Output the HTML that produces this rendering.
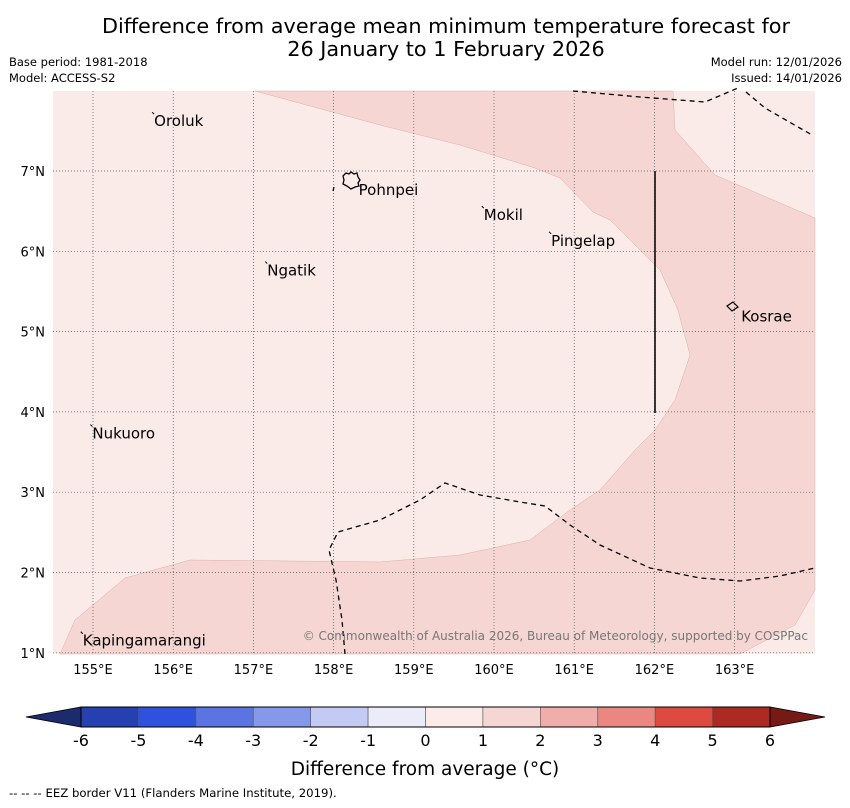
<!DOCTYPE html>
<html><head><meta charset="utf-8"><style>
body{margin:0;background:#fff;font-family:"DejaVu Sans","Liberation Sans",sans-serif;}
svg text{font-family:"DejaVu Sans","Liberation Sans",sans-serif;}
</style></head><body>
<svg id="c" width="850" height="804" xmlns="http://www.w3.org/2000/svg">
<text x="446" y="33" font-size="20.8" text-anchor="middle">Difference from average mean minimum temperature forecast for</text>
<text x="446" y="56" font-size="20.8" text-anchor="middle">26 January to 1 February 2026</text>
<text x="9" y="66" font-size="11.5">Base period: 1981-2018</text>
<text x="9" y="82" font-size="11.5">Model: ACCESS-S2</text>
<text x="842" y="66" font-size="11.5" text-anchor="end">Model run: 12/01/2026</text>
<text x="842" y="82" font-size="11.5" text-anchor="end">Issued: 14/01/2026</text>
<g id="map">
<rect x="53" y="91" width="762" height="563" fill="#fbebe8"/>
<path d="M255,91 L380,125 L460,145 L535,168 L560,178 L593,212 L610,220 L640,250 L660,270 L678,310 L690,355 L675,400 L655,430 L635,450 L600,490 L570,510 L530,540 L460,555 L380,562 L290,561 L190,560 L125,578 L75,620 L60,654 L740,654 L795,625 L815,590 L815,218 L715,175 L675,130 L673,91 Z" fill="#f5d6d3" stroke="#d9b0ab" stroke-width="0.5"/>
<g id="grid"></g>
<g fill="none" stroke="#000" stroke-width="1.3" stroke-dasharray="5,4">
<path d="M573,91 L640,97 L705,102 L738,88"/>
<path d="M746,92 L765,108 L812,135"/>
<path d="M345,654 L342,620 L336,580 L329,550 L338,532 L380,520 L420,500 L445,483 L480,495 L520,502 L545,506 L570,525 L600,545 L650,568 L700,578 L740,581 L780,576 L815,568"/>
</g>
<line x1="655" y1="171" x2="655" y2="413" stroke="#222" stroke-width="1.8"/>
<path d="M343,176 L346,173 L349,174 L351,172 L354,174 L357,173 L358,177 L360,180 L358,183 L359,186 L355,187 L351,189 L347,186 L343,184 L344,180 Z" fill="none" stroke="#000" stroke-width="1.3"/>
<path d="M334,187 L333,191" stroke="#000" stroke-width="1.2"/>
<path d="M727,306 L733,302 L738,307 L732,311 Z" fill="none" stroke="#000" stroke-width="1.2"/>
<g font-size="15" id="labels"></g>
<text x="808" y="640" font-size="12" fill="#777" text-anchor="end">© Commonwealth of Australia 2026, Bureau of Meteorology, supported by COSPPac</text>
</g>
<g id="axes"></g>
<g id="cbar"></g>
<text x="425" y="775" font-size="18.5" text-anchor="middle">Difference from average (°C)</text>
<text x="9" y="797" font-size="11.7">--  --  -- EEZ border V11 (Flanders Marine Institute, 2019).</text>
</svg>
<script>
const NS="http://www.w3.org/2000/svg";
const lonTicks=[155,156,157,158,159,160,161,162,163];
const latTicks=[1,2,3,4,5,6,7];
const cbLevels=[-6,-5,-4,-3,-2,-1,0,1,2,3,4,5,6];
const cbColors=["#2540b0","#2f52de","#5a75e2","#8598ea","#c3caf3","#eaecfa","#fcece9","#f6d6d3","#efaeaa","#e98780","#dc4a40","#ac2a22"];
// name, lon, lat, has outline (big island)
const islands=[["Oroluk",155.75,7.72,0],["Pohnpei",158.2,6.89,1],["Mokil",159.86,6.55,0],["Pingelap",160.7,6.23,0],["Ngatik",157.16,5.86,0],["Kosrae",162.97,5.31,1],["Nukuoro",154.98,3.83,0],["Kapingamarangi",154.86,1.25,0]];
const X=l=>93+(l-155)*80.2, Y=t=>171+(7-t)*80.3;
const cx=v=>81+(v+6)*(689/12);
function mk(t,a,p){const e=document.createElementNS(NS,t);for(const k in a)e.setAttribute(k,a[k]);(p||document.getElementById('c')).appendChild(e);return e;}
const grid=document.getElementById('grid'),axes=document.getElementById('axes'),labs=document.getElementById('labels'),cb=document.getElementById('cbar');
lonTicks.forEach(l=>{
 const g=mk('line',{x1:X(l),x2:X(l),y1:91,y2:654,stroke:'#555','stroke-width':0.7,'stroke-dasharray':'1,2'},grid);
 
 
 const t=mk('text',{x:X(l),y:674,'font-size':13,'text-anchor':'middle'},axes);t.textContent=l+'°E';
 
 
});
latTicks.forEach(l=>{
 const g=mk('line',{x1:53,x2:815,y1:Y(l),y2:Y(l),stroke:'#555','stroke-width':0.7,'stroke-dasharray':'1,2'},grid);
 
 
 const t=mk('text',{x:45,y:Y(l)+5,'font-size':13,'text-anchor':'end'},axes);t.textContent=l+'°N';
 
 
});
islands.forEach(d=>{
 const x=X(d[1]),y=Y(d[2]);
 let tx=x+1,ty=y+13;
 if(d[3]){tx=x+9;ty=y+15;}
 else{
  const p=mk('path',{d:`M${x-1},${y-1} L${x+1},${y+1}`,stroke:'#000','stroke-width':1},labs);
  
  
 }
 const t=mk('text',{x:tx,y:ty},labs);t.textContent=d[0];
 
 
});
for(let i=0;i<cbColors.length;i++){
 const r=mk('rect',{x:cx(cbLevels[i]),y:707,width:cx(cbLevels[i+1])-cx(cbLevels[i]),height:20,fill:cbColors[i],stroke:'#555','stroke-width':0.6},cb);
 
 
}
const lt=mk('polygon',{points:`${cx(-6)},707 ${cx(-6)},727 26,717`,fill:'#1c2a6e',stroke:'#000','stroke-width':0.8},cb);


const rt=mk('polygon',{points:`${cx(6)},707 ${cx(6)},727 825,717`,fill:'#751a14',stroke:'#000','stroke-width':0.8},cb);


const ob=mk('rect',{x:cx(-6),y:707,width:cx(6)-cx(-6),height:20,fill:'none',stroke:'#000','stroke-width':1},cb);


cbLevels.forEach(v=>{
 const t=mk('text',{x:cx(v),y:746,'font-size':16,'text-anchor':'middle'},cb);t.textContent=v;
 
 
});
</script>
</body></html>
